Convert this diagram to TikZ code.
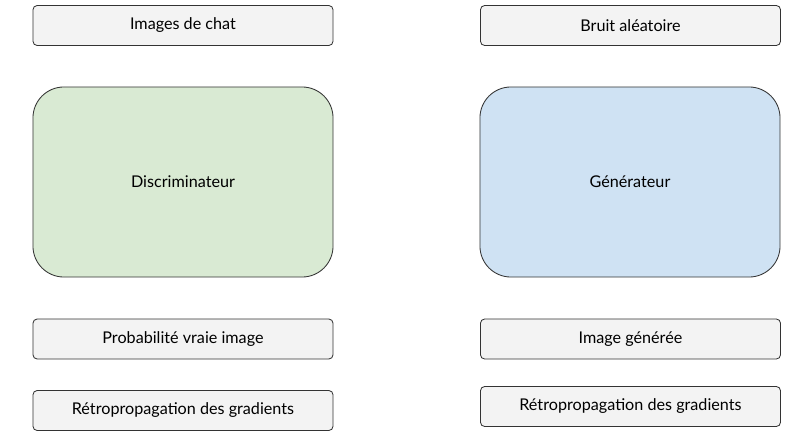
\documentclass[tikz,border=0pt]{standalone}
\usepackage{fontspec}
\setmainfont{Lato}
\tikzset{
  smallbox/.style={draw=black!80, line width=0.6pt, fill={rgb,255:red,243;green,243;blue,243}, rounded corners=3pt, minimum width=7.5cm, minimum height=1.0cm, font=\fontsize{11.5pt}{12pt}\selectfont},
  bigbox/.style={draw=black!80, line width=0.6pt, rounded corners=22pt, minimum width=7.5cm, minimum height=4.75cm, font=\fontsize{11.5pt}{12pt}\selectfont}
}
\begin{document}
\begin{tikzpicture}[x=0.025cm,y=-0.025cm]
  \useasboundingbox (0,0) rectangle (812,435);
  % top row
  \node [smallbox] (chat) at (183,25.5) {Images de chat};
  \node [smallbox] (bruit) at (630.5,25.5) {Bruit aléatoire};
  % main blocks
  \node [bigbox, fill={rgb,255:red,217;green,234;blue,211}] (disc) at (183,182) {Discriminateur};
  \node [bigbox, fill={rgb,255:red,207;green,226;blue,243}] (gen) at (630,182) {Générateur};
  % outputs
  \node [smallbox] (proba) at (183,339) {Probabilité vraie image};
  \node [smallbox] (genimg) at (630.5,339) {Image générée};
  % backprop
  \node [smallbox] (retrod) at (183,410.5) {Rétropropagation des gradients};
  \node [smallbox] (retrog) at (630.5,406.5) {Rétropropagation des gradients};
\end{tikzpicture}
\end{document}
